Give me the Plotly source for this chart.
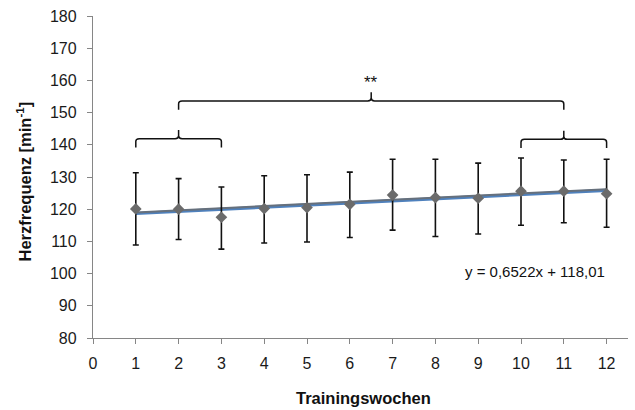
import plotly.graph_objects as go

weeks = [1, 2, 3, 4, 5, 6, 7, 8, 9, 10, 11, 12]
heart_rate = [120.1, 120.0, 117.5, 120.2, 120.5, 121.5, 124.4, 123.6, 123.4, 125.6, 125.6, 124.8]
err_upper = [131.3, 129.5, 126.9, 130.4, 130.7, 131.5, 135.5, 135.5, 134.3, 135.9, 135.3, 135.5]
err_lower = [108.9, 110.6, 107.6, 109.5, 109.8, 111.2, 113.5, 111.5, 112.3, 115.0, 115.8, 114.4]
slope = 0.6522
intercept = 118.01
x_ticks = list(range(0, 13))
y_ticks = list(range(80, 190, 10))

# significance brackets: (start, end, tip, level)
brackets = [(1, 3, 2, 141.9), (2, 11, 6.5, 153.6), (10, 12, 11, 141.7)]
star_label = "**"
equation_label = "y = 0,6522x + 118,01"
x_title = "Trainingswochen"
y_title = "Herzfrequenz [min<sup>-1</sup>]"

FONT = "Liberation Sans, Arial, sans-serif"

plus = [u - v for u, v in zip(err_upper, heart_rate)]
minus = [v - l for v, l in zip(heart_rate, err_lower)]
trend = [slope * w + intercept for w in weeks]
shadow = [t + 0.35 for t in trend]

fig = go.Figure()
fig.add_trace(go.Scatter(
    x=weeks, y=trend, mode="lines",
    line=dict(color="#4f81bd", width=3.2), showlegend=False, hoverinfo="skip"))
fig.add_trace(go.Scatter(
    x=weeks, y=shadow, mode="lines",
    line=dict(color="#66707c", width=2.0), showlegend=False, hoverinfo="skip"))
fig.add_trace(go.Scatter(
    x=weeks, y=heart_rate, mode="markers",
    marker=dict(symbol="diamond", size=9, color="#6b6b6b"),
    error_y=dict(type="data", array=plus, arrayminus=minus, color="#111111", thickness=1.6, width=3),
    showlegend=False, hoverinfo="skip"))

drop = 2.7
rise = 2.7
rx = 0.08
ry = 0.9
for a, b, m, h in brackets:
    path = (f"M {a},{h-drop} L {a},{h-ry} Q {a},{h} {a+rx},{h} "
            f"L {m-rx},{h} Q {m},{h} {m},{h+ry} L {m},{h+rise} "
            f"M {m},{h+ry} Q {m},{h} {m+rx},{h} "
            f"L {b-rx},{h} Q {b},{h} {b},{h-ry} L {b},{h-drop}")
    fig.add_shape(type="path", path=path, xref="x", yref="y",
                  line=dict(color="#111111", width=1.5))

fig.add_annotation(x=6.5, y=159.2, text=star_label, showarrow=False,
                   font=dict(family=FONT, size=17, color="#111111"))
fig.add_annotation(x=12.0, y=100.5, text=equation_label, showarrow=False, xanchor="right",
                   font=dict(family=FONT, size=15, color="#111111"))
fig.add_annotation(xref="paper", yref="paper", x=0.5065, y=-0.186, text="<b>" + x_title + "</b>",
                   showarrow=False, xanchor="center", yanchor="middle",
                   font=dict(family=FONT, size=16.5, color="#111111"))
fig.add_annotation(xref="paper", yref="paper", x=-0.129, y=0.486, text="<b>" + y_title + "</b>",
                   showarrow=False, textangle=-90, xanchor="center", yanchor="middle",
                   font=dict(family=FONT, size=16.5, color="#111111"))

axis_common = dict(showgrid=False, zeroline=False, showline=True, linecolor="#868686",
                   linewidth=1.3, ticks="outside", ticklen=5, tickcolor="#868686",
                   automargin=False,
                   tickfont=dict(family=FONT, size=16, color="#1a1a1a"))
fig.update_xaxes(range=[0, 12.5], tickvals=x_ticks, ticktext=[str(t) for t in x_ticks],
                 ticklabelstandoff=6, **axis_common)
fig.update_yaxes(range=[80, 180], tickvals=y_ticks, ticktext=[str(t) for t in y_ticks],
                 ticklabelstandoff=7, **axis_common)
fig.update_layout(width=635, height=410, margin=dict(l=93, r=7, t=16, b=72),
                  plot_bgcolor="white", paper_bgcolor="white")
fig.write_html("out.html", config={"displayModeBar": False},
               post_script="document.body.style.margin='0';document.body.style.overflow='hidden';")
